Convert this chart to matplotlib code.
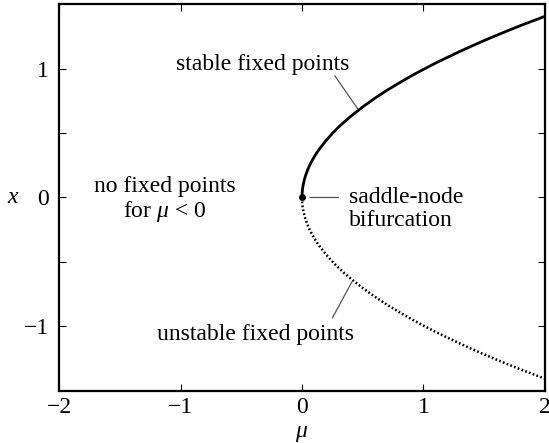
import matplotlib
matplotlib.use('Agg')
import matplotlib.pyplot as plt

plt.rcParams['font.family'] = ['Liberation Serif', 'DejaVu Serif']
plt.rcParams['mathtext.fontset'] = 'custom'
plt.rcParams['mathtext.it'] = 'Liberation Serif:italic'
plt.rcParams['mathtext.rm'] = 'Liberation Serif'

# branch of fixed points
mu = [0, 0.0005, 0.002, 0.005, 0.01, 0.02, 0.03, 0.045, 0.06, 0.08, 0.1,
      0.125, 0.15, 0.2, 0.25, 0.3, 0.35, 0.4, 0.5, 0.6, 0.7, 0.8, 0.9,
      1.0, 1.1, 1.2, 1.3, 1.4, 1.5, 1.6, 1.7, 1.8, 1.9, 2.0]
x_stable = [0, 0.022, 0.045, 0.071, 0.10, 0.141, 0.173, 0.212, 0.245, 0.283,
            0.316, 0.354, 0.387, 0.447, 0.5, 0.548, 0.592, 0.632, 0.707,
            0.775, 0.837, 0.894, 0.949, 1.0, 1.049, 1.095, 1.140, 1.183,
            1.225, 1.265, 1.304, 1.342, 1.378, 1.414]
x_unstable = [-v for v in x_stable]

xticks = [-2, -1, 0, 1, 2]
yticks = [-1, 0, 1]
fs = 17

fig = plt.figure(figsize=(5.49, 4.43), dpi=100)
ax = fig.add_axes([0.1075, 0.1174, 0.8852, 0.8736])

ax.plot(mu, x_stable, color='black', lw=2.0, solid_capstyle='butt')
ax.plot(mu, x_unstable, color='black', lw=1.8, linestyle=(0, (0.7, 0.9)))
ax.plot([0], [0], 'o', color='black', ms=4)

ax.set_xlim(-2, 2)
ax.set_ylim(-1.51, 1.51)
ax.set_xticks(xticks)
ax.set_xticklabels(['\u22122', '\u22121', '0', '1', '2'])
ax.set_yticks(yticks)
ax.set_yticklabels(['\u22121', '0', '1'])
ax.set_yticks([-0.5, 0.5], minor=True)
ax.tick_params(which='both', direction='in', top=True, right=True,
               length=5, width=0.8, labelsize=fs, pad=4)
ax.tick_params(axis='y', pad=7)
for s in ax.spines.values():
    s.set_linewidth(1.6)

ax.set_xlabel(r'$\mu$', fontsize=fs, labelpad=4)
ax.set_ylabel(r'$x$', fontsize=fs, rotation=0, labelpad=8, va='center')

lead = dict(arrowstyle='-', color='#555555', lw=0.9, shrinkA=0, shrinkB=0)
ax.text(-0.32, 1.04, 'stable fixed points', fontsize=fs, ha='center', va='center')
ax.annotate('', xy=(0.46, 0.69), xytext=(0.27, 0.95), arrowprops=lead)

ax.text(-1.13, -0.02, 'no fixed points\nfor $\\mu$ < 0', fontsize=fs,
        ha='center', va='center', linespacing=1.1)

ax.text(0.39, -0.09, 'saddle-node\nbifurcation', fontsize=fs,
        ha='left', va='center', linespacing=1.1)
ax.annotate('', xy=(0.30, 0), xytext=(0.066, 0), arrowprops=lead)

ax.text(-0.38, -1.07, 'unstable fixed points', fontsize=fs, ha='center', va='center')
ax.annotate('', xy=(0.41, -0.66), xytext=(0.25, -0.94), arrowprops=lead)

fig.savefig('out.png', dpi=100)
